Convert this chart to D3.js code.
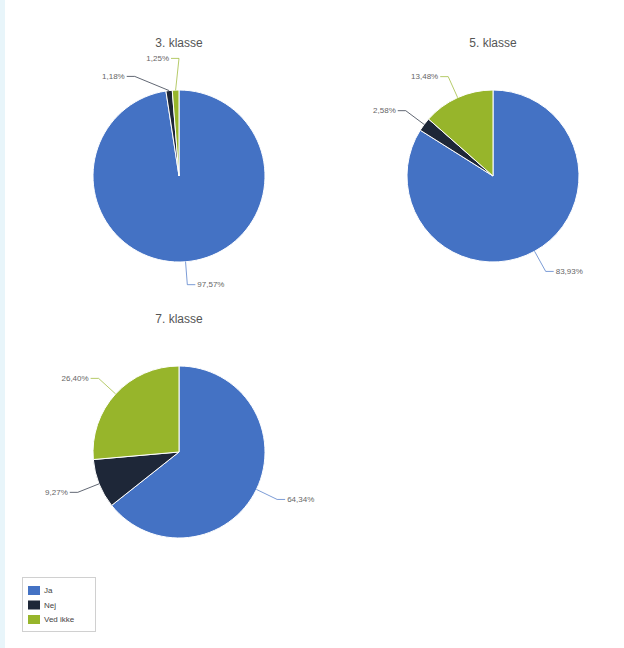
<!DOCTYPE html>
<html><head><meta charset="utf-8">
<script src="https://cdn.jsdelivr.net/npm/d3@7/dist/d3.min.js"></script>
<style>
html,body{margin:0;padding:0;background:#fff;}
svg{display:block;font-family:Arial,"Liberation Sans",sans-serif;}
</style></head>
<body>
<svg id="chart" width="624" height="648"></svg>
<script>
// ---- data ----
const categories = ["Ja", "Nej", "Ved ikke"];
const colors = ["#4472C4", "#1e2738", "#97B52B"];
const charts = ["3. klasse", "5. klasse", "7. klasse"];
const values3 = [97.57, 1.18, 1.25];
const values5 = [83.93, 2.58, 13.48];
const values7 = [64.34, 9.27, 26.40];
const allValues = [values3, values5, values7];

const svg = d3.select("#chart");
// page edge strip
svg.append("rect").attr("x",0).attr("y",0).attr("width",5).attr("height",648).attr("fill","#e8f5fa");

const layout = [
  {cx:179, cy:176, ty:47},
  {cx:493, cy:176, ty:47},
  {cx:179, cy:452, ty:323}
];
const r = 86, d = 23;
const fmt = v => d3.format(".2f")(v).replace(".", ",") + "%";

const pie = d3.pie().sort(null).value(v => v);
const arc = d3.arc().innerRadius(0).outerRadius(r);

allValues.forEach((vals, i) => {
  const L = layout[i];
  const g = svg.append("g");
  g.append("text").attr("x",L.cx).attr("y",L.ty).attr("text-anchor","middle")
    .attr("font-size",12).attr("fill","#555").text(charts[i]);
  const pg = g.append("g").attr("transform",`translate(${L.cx},${L.cy})`);
  const arcs = pie(vals);
  pg.selectAll("path").data(arcs).join("path")
    .attr("d",arc).attr("fill",(a,j)=>colors[j]).attr("stroke","#fff").attr("stroke-width",1);

  // label placement
  const R = r + d;
  const labs = arcs.map((a,j) => {
    const m = (a.startAngle + a.endAngle)/2;
    const side = Math.sin(m) >= 0 ? 1 : -1;
    return {j, m, side, v: vals[j], y: -R*Math.cos(m), x0: r*Math.sin(m), y0: -r*Math.cos(m)};
  });
  [1,-1].forEach(s => {
    const grp = labs.filter(l => l.side === s).sort((a,b)=>a.y-b.y);
    const gap = 18;
    for (let k=0;k<50;k++){
      let moved=false;
      for (let q=1;q<grp.length;q++){
        const ov = grp[q-1].y + gap - grp[q].y;
        if (ov > 0.01){ grp[q-1].y -= ov/2; grp[q].y += ov/2; moved=true; }
      }
      if(!moved) break;
    }
  });
  labs.forEach(l => {
    const dy = l.y;
    const ex = l.side * Math.sqrt(Math.max(0, R*R - dy*dy));
    const tx = ex + l.side*10;
    pg.append("path")
      .attr("d", `M${l.x0},${l.y0}L${ex},${l.y}L${tx - l.side*2},${l.y}`)
      .attr("fill","none").attr("stroke",colors[l.j]).attr("stroke-opacity",0.7).attr("stroke-width",1);
    pg.append("text").attr("x",tx).attr("y",l.y).attr("dy","0.35em")
      .attr("text-anchor", l.side>0 ? "start" : "end")
      .attr("font-size",8).attr("fill","#666").text(fmt(l.v));
  });
});

// legend
const lg = svg.append("g").attr("transform","translate(22,577)");
lg.append("rect").attr("x",0.5).attr("y",0.5).attr("width",73).attr("height",54)
  .attr("fill","#fff").attr("stroke","#d0d0d0");
categories.forEach((c,j)=>{
  lg.append("rect").attr("x",6).attr("y",9+j*14.5).attr("width",12).attr("height",9).attr("fill",colors[j]);
  lg.append("text").attr("x",22).attr("y",13.5+j*14.5).attr("dy","0.35em")
    .attr("font-size",8).attr("fill","#444").text(c);
});
</script>
</body></html>
